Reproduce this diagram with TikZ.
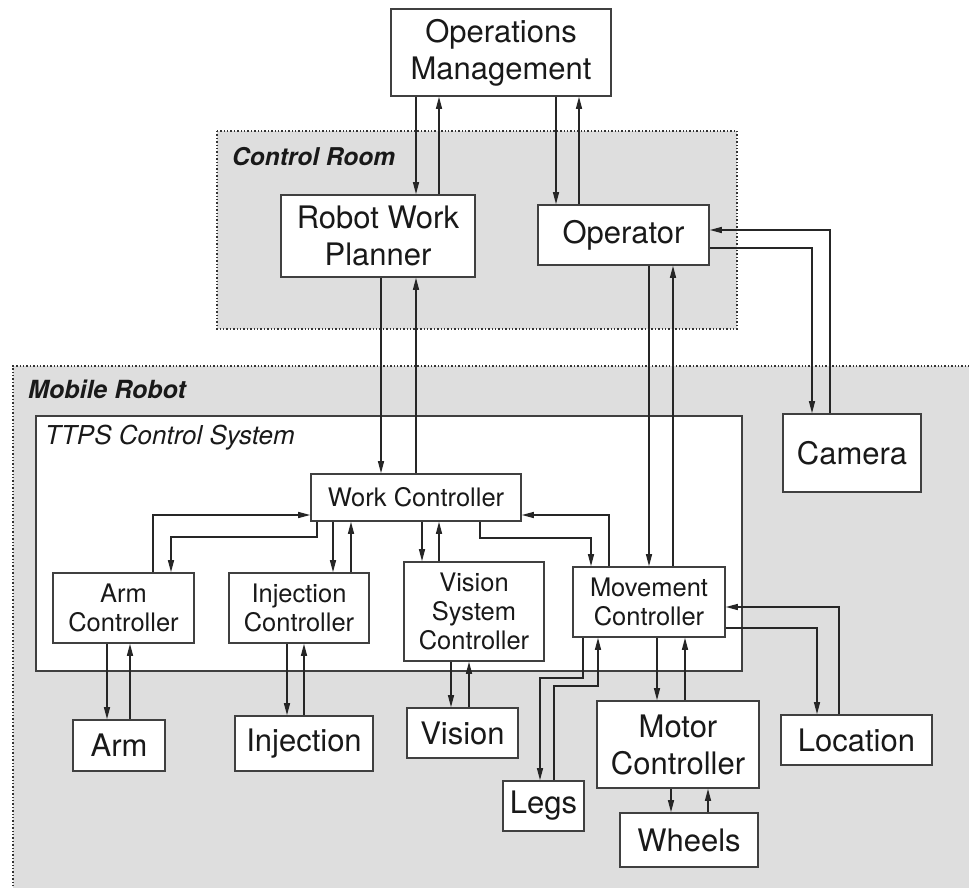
\documentclass[tikz,border=0pt]{standalone}
\usepackage{fontspec}
\setmainfont{TeX Gyre Heros}
\usetikzlibrary{arrows.meta}
\begin{document}
\begin{tikzpicture}[x=1pt,y=-1pt,
  box/.style={draw=black!75, line width=1.6pt, fill=white, inner sep=0pt, align=center, text=black!90},
  big/.style={font=\fontsize{31}{37}\selectfont},
  med/.style={font=\fontsize{25.5}{29}\selectfont},
  arr/.style={draw=black!85, line width=1.3pt, -{Triangle[length=12pt,width=6pt]}},
  regionfill/.style={fill=black!13},
  regionborder/.style={draw=black!80, dotted, line width=1.4pt},
  lab/.style={anchor=base west, text=black!90, inner sep=0pt}]
\clip (0,0) rectangle (969,888);
\useasboundingbox (0,0) rectangle (969,888);
\fill[white] (0,0) rectangle (969,888);
% regions
\fill[regionfill] (217,131) rectangle (737,329);
\draw[regionborder] (217,131) rectangle (737,329);
\fill[regionfill] (13,366) rectangle (980,900);
\draw[regionborder] (13,900) -- (13,366) -- (980,366);
\draw[draw=black!75, line width=1.4pt, fill=white] (36,416) rectangle (742,671);
% labels
\node[lab, font=\fontsize{24.5}{28}\selectfont\bfseries\itshape] (crlab) at (232,165) {Control Room};
\node[lab, font=\fontsize{25}{28}\selectfont\bfseries\itshape] (mrlab) at (28,398) {Mobile Robot};
\node[lab, font=\fontsize{26}{29}\selectfont\itshape] (ttlab) at (45,444) {TTPS Control System};
% nodes
\node[box,big,minimum width=220pt,minimum height=87pt] (ops) at (501,52.5) {Operations\\Management};
\node[box,big,minimum width=194pt,minimum height=82pt] (rwp) at (378,236) {Robot Work\\Planner};
\node[box,big,minimum width=171pt,minimum height=60pt] (oper) at (623.5,235) {Operator};
\node[box,big,minimum width=138pt,minimum height=78pt] (cam) at (852,453) {Camera};
\node[box,med,minimum width=210pt,minimum height=47pt] (wc) at (416,497.5) {Work Controller};
\node[box,med,minimum width=141pt,minimum height=70pt] (armc) at (123.5,608) {Arm\\Controller};
\node[box,med,minimum width=140pt,minimum height=70pt] (injc) at (299,608) {Injection\\Controller};
\node[box,med,minimum width=140pt,minimum height=99pt] (visc) at (474,611.5) {Vision\\System\\Controller};
\node[box,med,minimum width=152pt,minimum height=70pt] (movc) at (649,602) {Movement\\Controller};
\node[box,big,minimum width=92pt,minimum height=51pt] (arm) at (119,745.5) {Arm};
\node[box,big,minimum width=138pt,minimum height=55pt] (inj) at (304,743.5) {Injection};
\node[box,big,minimum width=111pt,minimum height=50pt] (vis) at (462.5,733) {Vision};
\node[box,big,minimum width=81pt,minimum height=50pt] (legs) at (543.5,806) {Legs};
\node[box,big,minimum width=162pt,minimum height=87pt] (motor) at (678,744.5) {Motor\\Controller};
\node[box,big,minimum width=138pt,minimum height=54pt] (wheels) at (689,840) {Wheels};
\node[box,big,minimum width=151pt,minimum height=50pt] (loc) at (856.5,740) {Location};
% connectors
\draw[arr] (416,0 |- ops.south) -- (416,0 |- rwp.north);
\draw[arr] (439,0 |- rwp.north) -- (439,0 |- ops.south);
\draw[arr] (556,0 |- ops.south) -- (556,0 |- oper.north);
\draw[arr] (579,0 |- oper.north) -- (579,0 |- ops.south);
\draw[arr] (381,0 |- rwp.south) -- (381,0 |- wc.north);
\draw[arr] (416,0 |- wc.north) -- (416,0 |- rwp.south);
\draw[arr] (649,0 |- oper.south) -- (649,0 |- movc.north);
\draw[arr] (673,0 |- movc.north) -- (673,0 |- oper.south);
\draw[arr] (oper.east |- 0,248) -| (812,0 |- cam.north);
\draw[arr] (830,0 |- cam.north) |- (oper.east |- 0,230);
\draw[arr] (153,0 |- armc.north) |- (wc.west |- 0,515);
\draw[arr] (317,0 |- wc.south) -- (317,537) -| (171,0 |- armc.north);
\draw[arr] (333,0 |- wc.south) -- (333,0 |- injc.north);
\draw[arr] (351,0 |- injc.north) -- (351,0 |- wc.south);
\draw[arr] (422,0 |- wc.south) -- (422,0 |- visc.north);
\draw[arr] (439,0 |- visc.north) -- (439,0 |- wc.south);
\draw[arr] (609,0 |- movc.north) |- (wc.east |- 0,515);
\draw[arr] (480,0 |- wc.south) -- (480,538) -| (591,0 |- movc.north);
\draw[arr] (107,0 |- armc.south) -- (107,0 |- arm.north);
\draw[arr] (130,0 |- arm.north) -- (130,0 |- armc.south);
\draw[arr] (287,0 |- injc.south) -- (287,0 |- inj.north);
\draw[arr] (304,0 |- inj.north) -- (304,0 |- injc.south);
\draw[arr] (451,0 |- visc.south) -- (451,0 |- vis.north);
\draw[arr] (469,0 |- vis.north) -- (469,0 |- visc.south);
\draw[arr] (583,0 |- movc.south) -- (583,678) -| (540,0 |- legs.north);
\draw[arr] (554,0 |- legs.north) -- (554,686) -| (598,0 |- movc.south);
\draw[arr] (657,0 |- movc.south) -- (657,0 |- motor.north);
\draw[arr] (685,0 |- motor.north) -- (685,0 |- movc.south);
\draw[arr] (671,0 |- motor.south) -- (671,0 |- wheels.north);
\draw[arr] (708,0 |- wheels.north) -- (708,0 |- motor.south);
\draw[arr] (movc.east |- 0,628) -| (817,0 |- loc.north);
\draw[arr] (839,0 |- loc.north) |- (movc.east |- 0,607);
\end{tikzpicture}
\end{document}
